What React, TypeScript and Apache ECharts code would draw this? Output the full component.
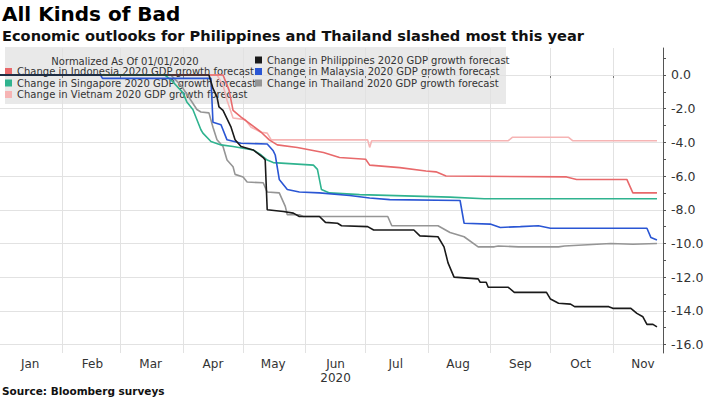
import React, { useEffect, useRef } from 'react';
import * as echarts from 'echarts';

const TITLE = 'All Kinds of Bad';
const SUBTITLE = 'Economic outlooks for Philippines and Thailand slashed most this year';
const SOURCE = 'Source: Bloomberg surveys';
const LEGEND_HEADER = 'Normalized As Of 01/01/2020';

const MONTH_LENGTHS = [31, 29, 31, 30, 31, 30, 31, 31, 30, 31, 30];
const LAST_DAY_OF_AXIS = 26; // Nov 26
const MONTH_LABELS = ['Jan', 'Feb', 'Mar', 'Apr', 'May', 'Jun', 'Jul', 'Aug', 'Sep', 'Oct', 'Nov'];
const YEAR_LABEL = '2020';
const YEAR_UNDER_MONTH = 'Jun';
const Y_LABELS = [0, -2, -4, -6, -8, -10, -12, -14, -16];
const Y_TICKS = [1, 0, -1, -2, -3, -4, -5, -6, -7, -8, -9, -10, -11, -12, -13, -14, -15, -16];

const NAMES = {
  idn: 'Change in Indonesia 2020 GDP growth forecast',
  sgp: 'Change in Singapore 2020 GDP growth forecast',
  vnm: 'Change in Vietnam 2020 GDP growth forecast',
  phl: 'Change in Philippines 2020 GDP growth forecast',
  mys: 'Change in Malaysia 2020 GDP growth forecast',
  tha: 'Change in Thailand 2020 GDP growth forecast',
};

const philippines: [string, number][] = [
  ['2020-01-01', 0], ['2020-04-14', 0], ['2020-04-16', -0.8], ['2020-04-18', -1.3], ['2020-04-19', -1.9],
  ['2020-04-21', -2.1], ['2020-04-25', -3.1], ['2020-04-27', -3.85], ['2020-04-30', -4.25], ['2020-05-06', -4.45],
  ['2020-05-11', -4.9], ['2020-05-12', -5.05], ['2020-05-13', -8.0], ['2020-05-21', -8.1], ['2020-05-26', -8.2],
  ['2020-05-29', -8.4], ['2020-06-08', -8.4], ['2020-06-11', -8.75], ['2020-06-17', -8.8], ['2020-06-19', -8.95],
  ['2020-07-02', -9.0], ['2020-07-05', -9.2], ['2020-07-25', -9.2], ['2020-07-28', -9.55], ['2020-08-06', -9.6],
  ['2020-08-09', -10.2], ['2020-08-11', -11.15], ['2020-08-14', -12.0], ['2020-08-26', -12.1], ['2020-08-27', -12.3],
  ['2020-08-30', -12.3], ['2020-08-31', -12.6], ['2020-09-10', -12.6], ['2020-09-13', -12.9], ['2020-09-29', -12.9],
  ['2020-10-01', -13.3], ['2020-10-05', -13.55], ['2020-10-11', -13.6], ['2020-10-13', -13.75], ['2020-10-30', -13.75],
  ['2020-11-01', -13.85], ['2020-11-10', -13.85], ['2020-11-13', -14.15], ['2020-11-16', -14.35], ['2020-11-18', -14.8],
  ['2020-11-21', -14.8], ['2020-11-23', -14.95],
];

const malaysia: [string, number][] = [
  ['2020-01-01', 0], ['2020-02-20', 0], ['2020-02-21', -0.2], ['2020-04-15', -0.2], ['2020-04-16', -2.8],
  ['2020-04-20', -2.95], ['2020-04-23', -3.85], ['2020-04-30', -4.05], ['2020-05-13', -4.1], ['2020-05-16', -4.5],
  ['2020-05-17', -4.75], ['2020-05-19', -6.2], ['2020-05-23', -6.8], ['2020-05-29', -6.95], ['2020-06-08', -7.0],
  ['2020-06-23', -7.15], ['2020-07-03', -7.3], ['2020-07-13', -7.4], ['2020-08-17', -7.45], ['2020-08-19', -8.8],
  ['2020-09-01', -8.85], ['2020-09-06', -9.05], ['2020-09-16', -9.0], ['2020-09-25', -8.95], ['2020-10-01', -9.1],
  ['2020-11-18', -9.1], ['2020-11-20', -9.65], ['2020-11-23', -9.8],
];

const singapore: [string, number][] = [
  ['2020-01-01', 0], ['2020-03-23', 0], ['2020-03-27', -0.4], ['2020-04-01', -1.05], ['2020-04-03', -1.6],
  ['2020-04-06', -2.05], ['2020-04-10', -3.25], ['2020-04-11', -3.45], ['2020-04-15', -3.95], ['2020-04-20', -4.15],
  ['2020-04-26', -4.25], ['2020-05-06', -4.45], ['2020-05-10', -4.75], ['2020-05-13', -5.05], ['2020-05-16', -5.2],
  ['2020-06-05', -5.35], ['2020-06-07', -5.6], ['2020-06-09', -6.8], ['2020-06-13', -7.0], ['2020-06-28', -7.1],
  ['2020-08-12', -7.25], ['2020-08-29', -7.35], ['2020-11-23', -7.35],
];

const thailand: [string, number][] = [
  ['2020-01-01', 0], ['2020-03-26', 0], ['2020-03-31', -0.6], ['2020-04-05', -1.5], ['2020-04-08', -2.05],
  ['2020-04-10', -2.2], ['2020-04-14', -2.25], ['2020-04-16', -3.1], ['2020-04-18', -3.85], ['2020-04-21', -4.25],
  ['2020-04-23', -5.05], ['2020-04-26', -5.45], ['2020-04-27', -5.9], ['2020-05-01', -6.05], ['2020-05-03', -6.35],
  ['2020-05-11', -6.4], ['2020-05-13', -6.95], ['2020-05-19', -7.0], ['2020-05-22', -7.8], ['2020-05-23', -8.3],
  ['2020-05-29', -8.3], ['2020-05-31', -8.4], ['2020-07-12', -8.4], ['2020-07-14', -8.95], ['2020-08-06', -8.95],
  ['2020-08-12', -9.35], ['2020-08-19', -9.6], ['2020-08-26', -10.2], ['2020-09-03', -10.2], ['2020-09-05', -10.15],
  ['2020-09-15', -10.2], ['2020-10-05', -10.2], ['2020-10-08', -10.15], ['2020-10-31', -10.0], ['2020-11-11', -10.05],
  ['2020-11-23', -10.0],
];

const vietnam: [string, number][] = [
  ['2020-01-01', 0], ['2020-04-18', 0], ['2020-04-21', -0.6], ['2020-04-23', -1.5], ['2020-04-26', -2.55],
  ['2020-05-02', -2.65], ['2020-05-05', -3.1], ['2020-05-10', -3.4], ['2020-05-13', -3.45], ['2020-05-15', -3.85],
  ['2020-07-02', -3.85], ['2020-07-03', -4.3], ['2020-07-04', -3.9], ['2020-09-10', -3.9], ['2020-09-12', -3.7],
  ['2020-10-10', -3.7], ['2020-10-12', -3.9], ['2020-11-23', -3.9],
];

const indonesia: [string, number][] = [
  ['2020-01-01', 0], ['2020-04-21', 0], ['2020-04-24', -0.9], ['2020-04-26', -2.1], ['2020-04-30', -2.5],
  ['2020-05-05', -2.95], ['2020-05-10', -3.4], ['2020-05-14', -3.85], ['2020-05-18', -4.15], ['2020-05-28', -4.3],
  ['2020-06-10', -4.6], ['2020-06-18', -4.9], ['2020-07-01', -5.0], ['2020-07-03', -5.35], ['2020-07-18', -5.5],
  ['2020-07-31', -5.7], ['2020-08-05', -5.75], ['2020-08-10', -6.0], ['2020-10-09', -6.05], ['2020-10-14', -6.2],
  ['2020-11-08', -6.2], ['2020-11-11', -7.0], ['2020-11-23', -7.0],
];

const COLORS = {
  idn: '#e8696b',
  sgp: '#2fb38f',
  vnm: '#f6b4b4',
  phl: '#1a1a1a',
  mys: '#2a56d4',
  tha: '#959595',
};

const FONT = 'DejaVu Sans';
const GRID_COLOR = '#e2e2e2';

function buildDays(): string[] {
  const out: string[] = [];
  for (let m = 0; m < MONTH_LENGTHS.length; m++) {
    const last = m === MONTH_LENGTHS.length - 1 ? LAST_DAY_OF_AXIS : MONTH_LENGTHS[m];
    for (let d = 1; d <= last; d++) {
      out.push(`2020-${String(m + 1).padStart(2, '0')}-${String(d).padStart(2, '0')}`);
    }
  }
  return out;
}

export default function App() {
  const ref = useRef<HTMLDivElement>(null);
  useEffect(() => {
    if (!ref.current) return;
    const chart = echarts.init(ref.current, undefined, { renderer: 'svg' });
    const days = buildDays();
    const lineSeries = (key: keyof typeof NAMES, data: [string, number][], extra: any = {}) => ({
      type: 'line',
      name: NAMES[key],
      data,
      showSymbol: false,
      symbol: 'none',
      lineStyle: { color: COLORS[key], width: 1.6 },
      itemStyle: { color: COLORS[key] },
      emphasis: { disabled: true },
      silent: true,
      z: 10,
      ...extra,
    });
    chart.setOption({
      animation: false,
      textStyle: { fontFamily: FONT },
      grid: { left: 0, right: 47, top: 48, bottom: 45, containLabel: false },
      xAxis: {
        type: 'category',
        data: days,
        boundaryGap: false,
        axisLine: { show: true, lineStyle: { color: '#777', width: 1 } },
        axisTick: {
          show: true,
          length: 3,
          interval: (i: number, v: string) => i > 0 && v.endsWith('-01'),
          lineStyle: { color: '#777' },
        },
        axisLabel: {
          interval: (_i: number, v: string) => v.endsWith('-16'),
          formatter: (v: string) => {
            const name = MONTH_LABELS[parseInt(v.slice(5, 7), 10) - 1];
            return name === YEAR_UNDER_MONTH ? `${name}\n${YEAR_LABEL}` : name;
          },
          color: '#333',
          fontSize: 12,
          lineHeight: 14,
          margin: 4,
          fontFamily: FONT,
        },
        splitLine: {
          show: true,
          interval: (i: number, v: string) => i > 0 && v.endsWith('-01'),
          lineStyle: { color: GRID_COLOR, width: 1 },
        },
      },
      yAxis: {
        type: 'value',
        position: 'right',
        min: -16.5,
        max: 1.6,
        axisLine: { show: true, lineStyle: { color: '#555', width: 1 } },
        axisTick: { show: true, length: 3, customValues: Y_TICKS, lineStyle: { color: '#555' } },
        axisLabel: {
          customValues: Y_LABELS,
          formatter: (v: number) => v.toFixed(1),
          color: '#333',
          fontSize: 12.5,
          margin: 8,
          fontFamily: FONT,
        },
        splitLine: { show: false },
      },
      legend: [
        {
          data: [NAMES.idn, NAMES.sgp, NAMES.vnm],
          left: 5,
          top: 66.5,
          orient: 'vertical',
          icon: 'rect',
          itemWidth: 7,
          itemHeight: 7,
          itemGap: 1.5,
          padding: 0,
          selectedMode: false,
          z: 1,
          textStyle: { fontSize: 10, lineHeight: 10, color: '#333', fontFamily: FONT },
        },
        {
          data: [NAMES.phl, NAMES.mys, NAMES.tha],
          left: 255,
          top: 55,
          orient: 'vertical',
          icon: 'rect',
          itemWidth: 7,
          itemHeight: 7,
          itemGap: 1.5,
          padding: 0,
          selectedMode: false,
          z: 1,
          textStyle: { fontSize: 10, lineHeight: 10, color: '#333', fontFamily: FONT },
        },
      ],
      graphic: [
        {
          type: 'rect',
          z: 0,
          silent: true,
          shape: { x: 5, y: 47, width: 501, height: 57 },
          style: { fill: 'rgba(215,215,215,0.55)' },
        },
        {
          type: 'text',
          x: 2,
          y: 14,
          silent: true,
          style: { text: TITLE, fontSize: 20, fontWeight: 'bold', fontFamily: FONT, fill: '#000', verticalAlign: 'middle', align: 'left' },
        },
        {
          type: 'text',
          x: 2,
          y: 35,
          silent: true,
          style: { text: SUBTITLE, fontSize: 14.6, fontWeight: 'bold', fontFamily: FONT, fill: '#111', verticalAlign: 'middle', align: 'left' },
        },
        {
          type: 'text',
          x: 125,
          y: 61,
          z: 1,
          silent: true,
          style: { text: LEGEND_HEADER, fontSize: 10, fontFamily: FONT, fill: '#333', verticalAlign: 'middle', align: 'center' },
        },
        {
          type: 'text',
          x: 2,
          y: 391,
          silent: true,
          style: { text: SOURCE, fontSize: 10.5, fontWeight: 'bold', fontFamily: FONT, fill: '#111', verticalAlign: 'middle', align: 'left' },
        },
      ],
      series: [
        lineSeries('vnm', vietnam, {
          markLine: {
            silent: true,
            symbol: ['none', 'none'],
            label: { show: false },
            lineStyle: { color: GRID_COLOR, width: 1, type: 'solid', opacity: 1 },
            data: Y_LABELS.map((v) => ({ yAxis: v })),
          },
        }),
        lineSeries('idn', indonesia),
        lineSeries('tha', thailand),
        lineSeries('sgp', singapore),
        lineSeries('mys', malaysia),
        lineSeries('phl', philippines),
      ],
    });
    return () => chart.dispose();
  }, []);
  return <div ref={ref} style={{ width: 710, height: 398, position: 'absolute', left: 0, top: 0 }} />;
}
